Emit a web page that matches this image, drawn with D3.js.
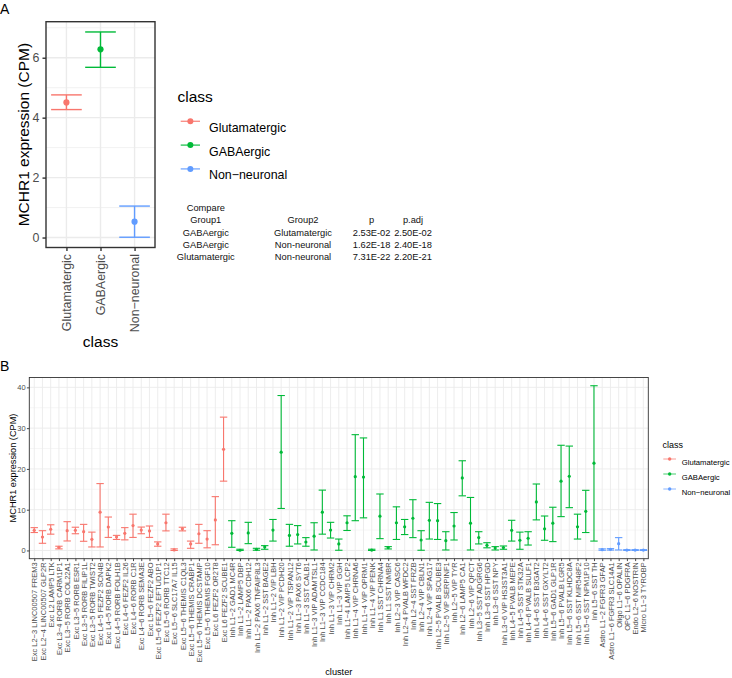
<!DOCTYPE html>
<html>
<head>
<meta charset="utf-8">
<script src="https://cdn.jsdelivr.net/npm/d3@7"></script>
<style>
  body { margin: 0; background: #fff; }
  text { font-family: "Liberation Sans", Arial, sans-serif; }
</style>
</head>
<body>
<svg id="fig" width="732" height="678"></svg>
<script>
// ---- panel A : MCHR1 by class ----
var classes = ["Glutamatergic", "GABAergic", "Non\u2212neuronal"];
var classColors = ["#F8766D", "#00BA38", "#619CFF"];
var classMean = [4.51, 6.28, 0.53];
var classLo = [4.27, 5.68, 0.01];
var classHi = [4.76, 6.86, 1.05];

// comparison table (pasted next to panel A)
var cmpGroup1 = ["GABAergic", "GABAergic", "Glutamatergic"];
var cmpGroup2 = ["Glutamatergic", "Non-neuronal", "Non-neuronal"];
var cmpP = ["2.53E-02", "1.62E-18", "7.31E-22"];
var cmpPadj = ["2.50E-02", "2.40E-18", "2.20E-21"];

// ---- panel B : MCHR1 by cluster ----
var clusters = [
  "Exc L2\u22123 LINC00507 FREM3", "Exc L2\u22124 LINC00507 GLP2R", "Exc L2 LAMP5 LTK",
  "Exc L3\u22124 RORB CARM1P1", "Exc L3\u22125 RORB COL22A1", "Exc L3\u22125 RORB ESR1",
  "Exc L3\u22125 RORB FILIP1L", "Exc L3\u22125 RORB TWIST2", "Exc L4\u22125 FEZF2 SCN4B",
  "Exc L4\u22125 RORB DAPK2", "Exc L4\u22125 RORB FOLH1B", "Exc L4\u22126 FEZF2 IL26",
  "Exc L4\u22126 RORB C1R", "Exc L4\u22126 RORB SEMA3E", "Exc L5\u22126 FEZF2 ABO",
  "Exc L5\u22126 FEZF2 EFTUD1P1", "Exc L5\u22126 RORB TTC12", "Exc L5\u22126 SLC17A7 IL15",
  "Exc L5\u22126 THEMIS C1QL3", "Exc L5\u22126 THEMIS CRABP1", "Exc L5\u22126 THEMIS DCSTAMP",
  "Exc L5\u22126 THEMIS FGF10", "Exc L6 FEZF2 OR2T8", "Exc L6 FEZF2 SCUBE1",
  "Inh L1\u22122 GAD1 MC4R", "Inh L1\u22122 LAMP5 DBP", "Inh L1\u22122 PAX6 CDH12",
  "Inh L1\u22122 PAX6 TNFAIP8L3", "Inh L1\u22122 SST BAGE2", "Inh L1\u22122 VIP LBH",
  "Inh L1\u22122 VIP PCDH20", "Inh L1\u22122 VIP TSPAN12", "Inh L1\u22123 PAX6 SYT6",
  "Inh L1\u22123 SST CALB1", "Inh L1\u22123 VIP ADAMTSL1", "Inh L1\u22123 VIP CCDC184",
  "Inh L1\u22123 VIP CHRM2", "Inh L1\u22123 VIP GGH", "Inh L1\u22124 LAMP5 LCP2",
  "Inh L1\u22124 VIP CHRNA6", "Inh L1\u22124 VIP OPRM1", "Inh L1\u22124 VIP PENK",
  "Inh L1 SST CHRNA4", "Inh L1 SST NMBR", "Inh L2\u22123 VIP CASC6",
  "Inh L2\u22124 PVALB WFDC2", "Inh L2\u22124 SST FRZB", "Inh L2\u22124 VIP CBLN1",
  "Inh L2\u22124 VIP SPAG17", "Inh L2\u22125 PVALB SCUBE3", "Inh L2\u22125 VIP SERPINF1",
  "Inh L2\u22125 VIP TYR", "Inh L2\u22126 LAMP5 CA1", "Inh L2\u22126 VIP QPCT",
  "Inh L3\u22125 SST ADGRG6", "Inh L3\u22126 SST HPGD", "Inh L3\u22126 SST NPY",
  "Inh L3\u22126 VIP HS3ST3A1", "Inh L4\u22125 PVALB MEPE", "Inh L4\u22125 SST STK32A",
  "Inh L4\u22126 PVALB SULF1", "Inh L4\u22126 SST B3GAT2", "Inh L4\u22126 SST GXYLT2",
  "Inh L5\u22126 GAD1 GLP1R", "Inh L5\u22126 PVALB LGR5", "Inh L5\u22126 SST KLHDC8A",
  "Inh L5\u22126 SST MIR548F2", "Inh L5\u22126 SST NPM1P10", "Inh L5\u22126 SST TH",
  "Astro L1\u22122 FGFR3 GFAP", "Astro L1\u22126 FGFR3 SLC14A1", "Oligo L1\u22126 OPALIN",
  "OPC L1\u22126 PDGFRA", "Endo L2\u22126 NOSTRIN", "Micro L1\u22123 TYROBP"
];
// 0 = Glutamatergic, 1 = GABAergic, 2 = Non-neuronal
var clusterClass = [
  0,0,0,0,0,0,0,0,0,0,0,0,0,0,0,0,0,0,0,0,0,0,0,0,
  1,1,1,1,1,1,1,1,1,1,1,1,1,1,1,1,1,1,1,1,1,1,1,1,1,1,1,1,1,1,1,1,1,1,1,1,1,1,1,1,1,1,1,1,1,
  2,2,2,2,2,2
];
var clusterMean = [
  4.95, 3.3, 5.2, 0.78, 4.86, 4.95, 4.6, 2.74, 9.4, 5.76, 3.3, 4.2,
  6.1, 5.0, 4.78, 1.6, 6.8, 0.12, 5.3, 1.6, 4.1, 2.8, 7.5, 24.8,
  4.2, 0.05, 4.3, 0.29, 0.86, 5.0, 24.1, 3.7, 3.9, 2.08, 3.5, 9.4,
  5.0, 1.6, 6.8, 18.1, 18.0, 0.1, 8.4, 0.7, 6.8, 5.8, 7.9, 2.57,
  7.4, 7.3, 2.4, 6.0, 17.8, 6.7, 3.15, 1.27, 0.61, 0.7, 4.95, 2.5,
  3.0, 11.9, 5.3, 6.7, 17.0, 18.2, 5.8, 9.6, 21.4,
  0.2, 0.29, 1.67, 0.1, 0.1, 0.1
];
var clusterLo = [
  4.4, 1.76, 4.0, 0.39, 2.33, 4.1, 2.25, 0.86, 0.86, 3.2, 2.7, 2.6,
  3.2, 4.1, 3.2, 1.04, 4.8, 0.0, 4.8, 0.53, 1.76, 0.65, 1.4, 17.0,
  0.78, 0.0, 1.67, 0.05, 0.29, 2.3, 10.3, 1.04, 1.6, 1.04, 0.12, 4.0,
  3.05, 0.05, 4.9, 7.3, 8.0, 0.0, 2.9, 0.37, 2.7, 3.9, 3.15, 0.05,
  2.8, 2.7, 0.12, 2.57, 13.4, 0.12, 1.6, 0.65, 0.12, 0.29, 2.3, 0.29,
  1.33, 7.5, 2.5, 2.17, 8.3, 10.5, 2.8, 4.4, 2.3,
  0.05, 0.1, 0.12, 0.0, 0.0, 0.0
];
var clusterHi = [
  5.6, 4.85, 6.3, 1.04, 7.06, 5.7, 6.4, 4.5, 16.4, 8.2, 3.7, 5.6,
  8.9, 5.74, 6.0, 2.1, 8.9, 0.39, 5.7, 2.3, 6.4, 4.85, 13.2, 32.7,
  7.3, 0.3, 6.9, 0.53, 1.18, 7.6, 38.0, 6.4, 6.1, 3.15, 6.8, 14.8,
  6.9, 2.8, 8.5, 28.4, 27.6, 0.3, 13.85, 0.94, 10.7, 7.6, 12.45, 4.85,
  11.8, 11.5, 4.6, 9.3, 22.0, 13.0, 4.6, 1.9, 0.94, 1.1, 7.4, 4.5,
  4.6, 16.3, 8.45, 10.6, 25.8, 25.6, 8.9, 14.75, 40.4,
  0.39, 0.45, 3.15, 0.2, 0.2, 0.2
];

var svg = d3.select("#fig");
svg.append("rect").attr("width", 732).attr("height", 678).attr("fill", "#fff");

// draws a theme_bw style errorbar panel, returns the scales
function panel(p) {
  var x = d3.scalePoint().domain(p.cats).range([p.left, p.right]).padding(0.6);
  var lo = d3.min(p.lo), hi = d3.max(p.hi);
  var pad = (hi - lo) * 0.05;
  var y = d3.scaleLinear().domain([lo - pad, hi + pad]).range([p.bottom, p.top]);
  var g = svg.append("g");

  g.selectAll(null).data(p.minor).enter().append("line")
    .attr("x1", p.left).attr("x2", p.right)
    .attr("y1", function(d) { return y(d); }).attr("y2", function(d) { return y(d); })
    .attr("stroke", "#EBEBEB").attr("stroke-width", p.gw * 0.5);
  g.selectAll(null).data(p.ticks).enter().append("line")
    .attr("x1", p.left).attr("x2", p.right)
    .attr("y1", function(d) { return y(d); }).attr("y2", function(d) { return y(d); })
    .attr("stroke", "#EBEBEB").attr("stroke-width", p.gw);
  g.selectAll(null).data(p.cats).enter().append("line")
    .attr("x1", function(d) { return x(d); }).attr("x2", function(d) { return x(d); })
    .attr("y1", p.top).attr("y2", p.bottom)
    .attr("stroke", "#EBEBEB").attr("stroke-width", p.gw);

  var hw = x.step() * 0.45;
  var eb = g.selectAll(null).data(p.cats).enter().append("g")
    .attr("stroke", function(d, i) { return p.color(i); })
    .attr("stroke-width", p.lw);
  eb.append("line")
    .attr("x1", function(d) { return x(d); }).attr("x2", function(d) { return x(d); })
    .attr("y1", function(d, i) { return y(p.lo[i]); }).attr("y2", function(d, i) { return y(p.hi[i]); });
  eb.append("line")
    .attr("x1", function(d) { return x(d) - hw; }).attr("x2", function(d) { return x(d) + hw; })
    .attr("y1", function(d, i) { return y(p.hi[i]); }).attr("y2", function(d, i) { return y(p.hi[i]); });
  eb.append("line")
    .attr("x1", function(d) { return x(d) - hw; }).attr("x2", function(d) { return x(d) + hw; })
    .attr("y1", function(d, i) { return y(p.lo[i]); }).attr("y2", function(d, i) { return y(p.lo[i]); });
  g.selectAll(null).data(p.cats).enter().append("circle")
    .attr("cx", function(d) { return x(d); })
    .attr("cy", function(d, i) { return y(p.mean[i]); })
    .attr("r", p.r)
    .attr("fill", function(d, i) { return p.color(i); });

  g.append("rect")
    .attr("x", p.left).attr("y", p.top)
    .attr("width", p.right - p.left).attr("height", p.bottom - p.top)
    .attr("fill", "none").attr("stroke", "#333").attr("stroke-width", p.gw);

  var ya = g.append("g").attr("transform", "translate(" + p.left + ",0)")
    .call(d3.axisLeft(y).tickValues(p.ticks).tickSize(p.tick).tickPadding(p.tpad));
  var xa = g.append("g").attr("transform", "translate(0," + p.bottom + ")")
    .call(d3.axisBottom(x).tickSize(p.tick));
  [ya, xa].forEach(function(a) {
    a.select(".domain").remove();
    a.selectAll(".tick line").attr("stroke", "#333").attr("stroke-width", p.gw);
    a.selectAll("text").attr("fill", "#4D4D4D").style("font-size", p.fs + "px")
      .style("font-family", "'Liberation Sans', Arial, sans-serif");
  });
  xa.selectAll("text")
    .attr("transform", "rotate(-90)")
    .attr("text-anchor", "end")
    .attr("x", -(p.tick + p.tpad)).attr("y", 0).attr("dy", "0.35em");
  return { x: x, y: y };
}

function legend(l) {
  var g = svg.append("g");
  g.append("text").attr("x", l.x).attr("y", l.titleY)
    .style("font-size", l.titleFs + "px").text("class");
  classes.forEach(function(c, i) {
    var ky = l.keyY + i * l.gap;
    g.append("line").attr("x1", l.keyX).attr("x2", l.keyX + l.kw)
      .attr("y1", ky).attr("y2", ky)
      .attr("stroke", classColors[i]).attr("stroke-width", l.lw).attr("opacity", 0.8);
    g.append("circle").attr("cx", l.keyX + l.kw / 2).attr("cy", ky).attr("r", l.r)
      .attr("fill", classColors[i]);
    g.append("text").attr("x", l.textX).attr("y", ky + l.fs * 0.84)
      .style("font-size", l.fs + "px").text(c);
  });
}

// panel A
panel({
  cats: classes, mean: classMean, lo: classLo, hi: classHi,
  color: function(i) { return classColors[i]; },
  left: 46, right: 155, top: 21.7, bottom: 247.5,
  ticks: [0, 2, 4, 6], minor: [1, 3, 5, 7],
  gw: 1.4, lw: 1.4, r: 3.1, tick: 3.5, tpad: 3, fs: 12.4
});
svg.append("text").attr("x", 100.5).attr("y", 346.5).attr("text-anchor", "middle")
  .style("font-size", "15.5px").text("class");
svg.append("text").attr("transform", "translate(29,134.6) rotate(-90)")
  .attr("text-anchor", "middle").style("font-size", "15.5px").text("MCHR1 expression (CPM)");
svg.append("text").attr("x", 0).attr("y", 14).style("font-size", "14px").text("A");
legend({ x: 177.5, titleY: 102, titleFs: 15.5, keyX: 180.7, keyY: 121.3, gap: 23.8, kw: 19.3,
  lw: 1.4, r: 3, textX: 209, fs: 12.4 });

// comparison table
var tbl = svg.append("g").style("font-size", "9.3px").attr("fill", "#111");
var colX = [205.8, 303, 371.6, 413];
tbl.append("text").attr("x", colX[0]).attr("y", 211.3).attr("text-anchor", "middle").text("Compare");
["Group1", "Group2", "p", "p.adj"].forEach(function(h, j) {
  tbl.append("text").attr("x", colX[j]).attr("y", 223).attr("text-anchor", "middle").text(h);
});
cmpGroup1.forEach(function(g1, i) {
  var row = [g1, cmpGroup2[i], cmpP[i], cmpPadj[i]];
  row.forEach(function(v, j) {
    tbl.append("text").attr("x", colX[j]).attr("y", 235.7 + i * 12.3)
      .attr("text-anchor", "middle").text(v);
  });
});

// panel B
panel({
  cats: clusters, mean: clusterMean, lo: clusterLo, hi: clusterHi,
  color: function(i) { return classColors[clusterClass[i]]; },
  left: 29.3, right: 648.3, top: 377.5, bottom: 558.7,
  ticks: [0, 10, 20, 30, 40], minor: [5, 15, 25, 35],
  gw: 0.9, lw: 1.1, r: 1.6, tick: 2.4, tpad: 1.2, fs: 7.5
});
svg.append("text").attr("x", 338.8).attr("y", 675).attr("text-anchor", "middle")
  .style("font-size", "9.2px").text("cluster");
svg.append("text").attr("transform", "translate(16,468) rotate(-90)")
  .attr("text-anchor", "middle").style("font-size", "9.2px").text("MCHR1 expression (CPM)");
svg.append("text").attr("x", 0).attr("y", 371).style("font-size", "14px").text("B");
legend({ x: 662.5, titleY: 447.5, titleFs: 9, keyX: 663.3, keyY: 459, gap: 15, kw: 12.7,
  lw: 0.9, r: 1.7, textX: 681.7, fs: 7.7 });
</script>
</body>
</html>
